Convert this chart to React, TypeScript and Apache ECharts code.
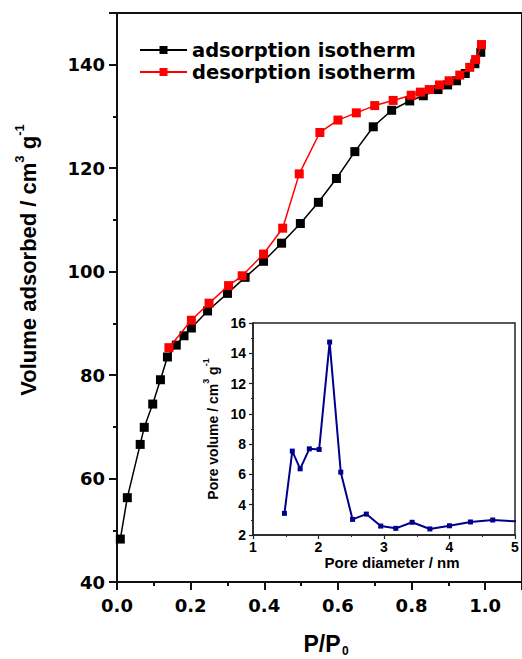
import React, { useEffect, useRef } from 'react';
import * as echarts from 'echarts';

const adsP = [0.009, 0.028, 0.063, 0.074, 0.097, 0.118, 0.137, 0.161, 0.182, 0.202, 0.246, 0.300, 0.348, 0.398, 0.447, 0.498, 0.547, 0.596, 0.646, 0.696, 0.746, 0.795, 0.832, 0.872, 0.898, 0.922, 0.946, 0.972, 0.988];
const adsV = [48.3, 56.3, 66.6, 69.9, 74.4, 79.1, 83.5, 85.8, 87.6, 89.1, 92.4, 95.8, 98.9, 102.0, 105.5, 109.3, 113.4, 118.0, 123.2, 128.0, 131.2, 133.0, 134.0, 135.2, 136.1, 136.9, 138.3, 140.2, 142.4];
const desP = [0.141, 0.202, 0.250, 0.303, 0.340, 0.398, 0.450, 0.495, 0.551, 0.600, 0.650, 0.700, 0.750, 0.799, 0.824, 0.848, 0.876, 0.902, 0.931, 0.958, 0.974, 0.990];
const desV = [85.3, 90.6, 93.9, 97.3, 99.2, 103.4, 108.4, 118.9, 126.9, 129.3, 130.7, 132.1, 133.1, 134.1, 134.7, 135.2, 136.1, 136.9, 138.0, 139.5, 141.0, 143.9];
const poreD = [1.48, 1.60, 1.72, 1.86, 2.01, 2.17, 2.34, 2.52, 2.73, 2.95, 3.18, 3.43, 3.70, 4.00, 4.32, 4.66, 5.10];
const poreV = [3.43, 7.54, 6.37, 7.69, 7.65, 14.74, 6.15, 3.03, 3.38, 2.59, 2.44, 2.84, 2.40, 2.61, 2.86, 2.99, 2.88];

const seriesNames = ['adsorption isotherm', 'desorption isotherm'];
const FONT = 'Liberation Sans, Arial, sans-serif';
const WIDE = 'DejaVu Sans, Liberation Sans, sans-serif';

export default function App() {
  const ref = useRef<HTMLDivElement>(null);
  useEffect(() => {
    if (!ref.current) return;
    const chart = echarts.init(ref.current, undefined, { renderer: 'svg' });
    const axisLine = { show: true, lineStyle: { color: '#111', width: 2 } };
    chart.setOption({
      animation: false,
      backgroundColor: '#fff',
      textStyle: { fontFamily: FONT },
      legend: {
        left: 134,
        top: 35,
        orient: 'vertical',
        itemWidth: 47,
        itemHeight: 10,
        itemGap: 2,
        textStyle: { fontSize: 19.5, fontWeight: 'bold', color: '#000', fontFamily: WIDE },
        data: seriesNames,
      },
      grid: [
        { left: 117, top: 13, right: -13, bottom: 77, show: true, borderColor: '#111', borderWidth: 2, backgroundColor: 'transparent' },
        { left: 253, top: 323, right: 7, bottom: 124, show: true, borderColor: '#222', borderWidth: 1.5, backgroundColor: '#fff', z: 5 },
      ],
      xAxis: [
        {
          type: 'value', gridIndex: 0, min: 0, max: 1.1, interval: 0.2,
          axisLine,
          axisTick: { show: true, length: 8, lineStyle: { color: '#111', width: 2 } },
          minorTick: { show: true, splitNumber: 2, length: 4, lineStyle: { color: '#111', width: 2 } },
          splitLine: { show: false },
          axisLabel: { margin: 14, fontSize: 18, fontWeight: 'bold', color: '#000', fontFamily: WIDE, showMaxLabel: false, formatter: (v: number) => v.toFixed(1) },
        },
        {
          type: 'value', gridIndex: 1, min: 1, max: 5, interval: 1, z: 6,
          axisLine: { show: true, lineStyle: { color: '#222', width: 1.5 } },
          axisTick: { show: true, length: 4, lineStyle: { color: '#222', width: 1.2 } },
          minorTick: { show: true, splitNumber: 2, length: 2, lineStyle: { color: '#222', width: 1 } },
          splitLine: { show: false },
          axisLabel: { margin: 5, fontSize: 14, fontWeight: 'bold', color: '#000', fontFamily: FONT },
          name: 'Pore diameter / nm', nameLocation: 'middle', nameGap: 17,
          nameTextStyle: { fontSize: 15, fontWeight: 'bold', color: '#000', fontFamily: FONT, padding: [0, 0, 0, 16] },
        },
      ],
      yAxis: [
        {
          type: 'value', gridIndex: 0, min: 40, max: 150, interval: 20,
          axisLine,
          axisTick: { show: true, length: 8, lineStyle: { color: '#111', width: 2 } },
          minorTick: { show: true, splitNumber: 2, length: 4, lineStyle: { color: '#111', width: 2 } },
          splitLine: { show: false },
          axisLabel: { margin: 12, fontSize: 18, fontWeight: 'bold', color: '#000', fontFamily: WIDE, showMaxLabel: false },
        },
        {
          type: 'value', gridIndex: 1, min: 2, max: 16, interval: 2, z: 6,
          axisLine: { show: true, lineStyle: { color: '#222', width: 1.5 } },
          axisTick: { show: true, length: 4, lineStyle: { color: '#222', width: 1.2 } },
          minorTick: { show: true, splitNumber: 2, length: 2, lineStyle: { color: '#222', width: 1 } },
          splitLine: { show: false },
          axisLabel: { margin: 7, fontSize: 14, fontWeight: 'bold', color: '#000', fontFamily: FONT },
          name: '{a|Pore volume / cm}{s|3}{a| g}{s|-1}', nameLocation: 'middle', nameGap: 22,
          nameTextStyle: {
            fontSize: 14, fontWeight: 'bold', color: '#000', fontFamily: FONT,
            rich: {
              a: { fontSize: 14, fontWeight: 'bold', color: '#000', fontFamily: FONT, lineHeight: 18, verticalAlign: 'bottom' },
              s: { fontSize: 9, fontWeight: 'bold', color: '#000', fontFamily: FONT, lineHeight: 9, verticalAlign: 'top' },
            },
          },
        },
      ],
      series: [
        {
          name: seriesNames[0], type: 'line', xAxisIndex: 0, yAxisIndex: 0,
          data: adsP.map((p, i) => [p, adsV[i]]),
          symbol: 'rect', symbolSize: 9,
          lineStyle: { color: '#000', width: 1.5 },
          itemStyle: { color: '#000' },
          z: 2,
        },
        {
          name: seriesNames[1], type: 'line', xAxisIndex: 0, yAxisIndex: 0,
          data: desP.map((p, i) => [p, desV[i]]),
          symbol: 'rect', symbolSize: 9,
          lineStyle: { color: '#ff0000', width: 1.5 },
          itemStyle: { color: '#ff0000' },
          z: 3,
        },
        {
          name: 'pore', type: 'line', xAxisIndex: 1, yAxisIndex: 1,
          data: poreD.map((d, i) => [d, poreV[i]]),
          symbol: 'rect', symbolSize: 5, clip: true,
          lineStyle: { color: '#00008b', width: 2 },
          itemStyle: { color: '#00008b' },
          z: 7,
        },
      ],
      graphic: [
        {
          type: 'text', x: 26, y: 260, rotation: Math.PI / 2,
          style: {
            text: '{a|Volume adsorbed / cm}{s|3}{a| g}{s|-1}',
            align: 'center', verticalAlign: 'middle', textAlign: 'center', textVerticalAlign: 'middle',
            rich: {
              a: { fontSize: 22, fontWeight: 'bold', fill: '#000', fontFamily: FONT, lineHeight: 26, verticalAlign: 'bottom' },
              s: { fontSize: 13, fontWeight: 'bold', fill: '#000', fontFamily: FONT, lineHeight: 13, verticalAlign: 'top' },
            },
          },
        },
        {
          type: 'text', x: 322, y: 632,
          style: { text: 'P/P', fontSize: 23, fontWeight: 'bold', fill: '#000', fontFamily: FONT, align: 'center', verticalAlign: 'top', textAlign: 'center', textVerticalAlign: 'top' },
        },
        {
          type: 'text', x: 342, y: 645,
          style: { text: '0', fontSize: 12, fontWeight: 'bold', fill: '#000', fontFamily: FONT, align: 'left', verticalAlign: 'top', textAlign: 'left', textVerticalAlign: 'top' },
        },
      ],
    });
    return () => chart.dispose();
  }, []);
  return <div ref={ref} style={{ position: 'absolute', left: 0, top: 0, width: 522, height: 659 }} />;
}
